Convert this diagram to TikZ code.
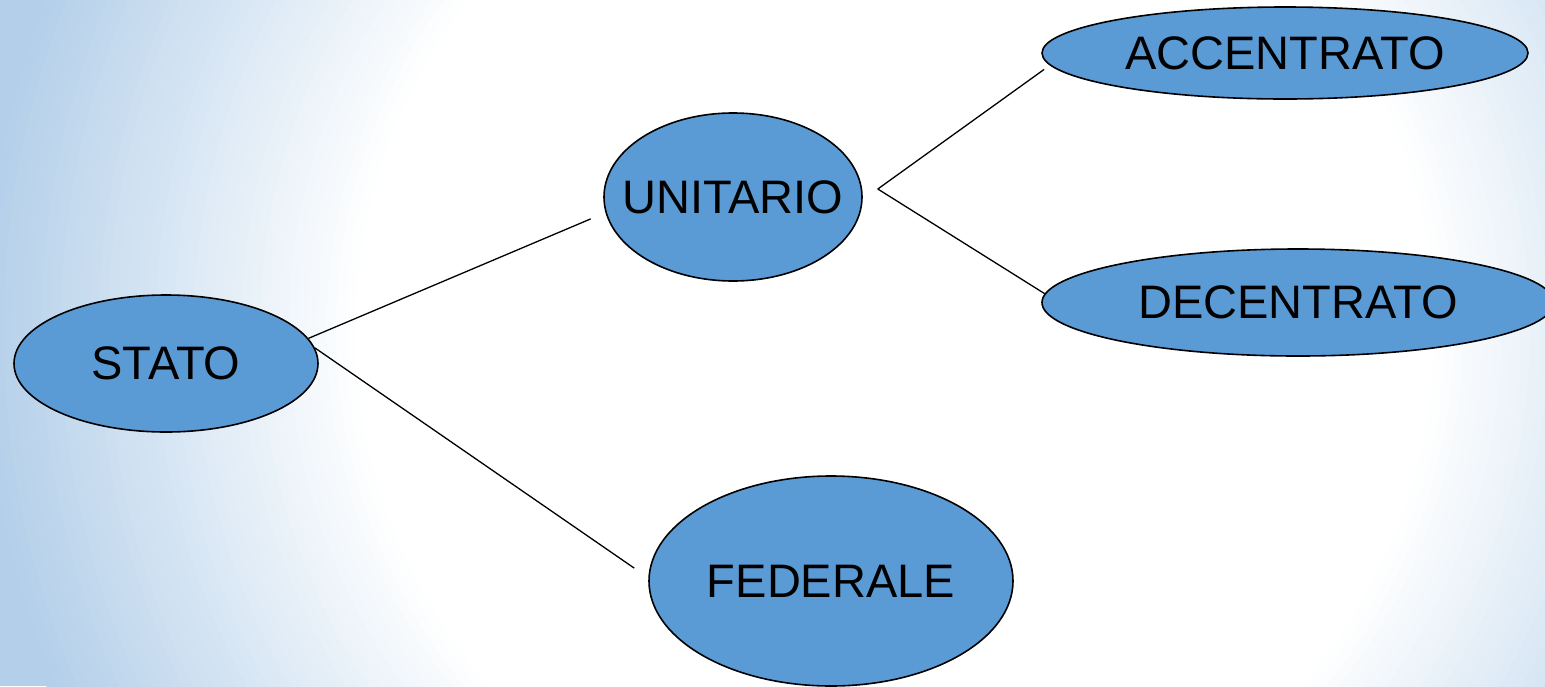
\documentclass[tikz,border=0pt]{standalone}
\usepackage{fontspec}
\setmainfont{Liberation Sans}
\usetikzlibrary{shapes.geometric}
\definecolor{nodeblue}{HTML}{5B9BD5}
\definecolor{bgblue}{HTML}{B3CFE9}
\begin{document}
\begin{tikzpicture}[x=1pt, y=-1pt,
	every node/.style={font=\fontsize{47}{56}\selectfont},
	blob/.style={ellipse, draw, fill=nodeblue, line width=1.6pt, inner sep=0pt},
	link/.style={line width=1.3pt}]
	\useasboundingbox (0,0) rectangle (1545,686);
	\begin{scope}
	\clip (0,0) rectangle (1545,686);
	\fill[bgblue] (0,0) rectangle (1545,686);
	% soft white glow in the middle
	\foreach \i [evaluate=\i as \r using 920-9.5*\i, evaluate=\i as \t using 2.5*\i] in {0,...,40}
		\fill[white!\t!bgblue] (895,330) circle (\r);
	\end{scope}
	\node[blob, minimum width=304pt, minimum height=137pt] (S) at (166,363.5) {STATO};
	\node[blob, minimum width=258pt, minimum height=168pt, inner xsep=-25pt] (U) at (733,197) {UNITARIO};
	\node[blob, minimum width=364pt, minimum height=210pt] (F) at (831,581) {FEDERALE};
	\node[blob, minimum width=486pt, minimum height=92pt] (A) at (1285,53) {ACCENTRATO};
	\node[blob, minimum width=512pt, minimum height=107pt] (D) at (1298,302.5) {DECENTRATO};
	\coordinate (fork) at ([xshift=15pt, yshift=8pt]U.east);
	\draw[link, shorten >=16pt] (S.10) -- (U.187);
	\draw[link, shorten >=17pt] (S.6) -- (F.179);
	\draw[link, shorten >=7pt] (fork) -- (A.183);
	\draw[link] (fork) -- (D.178);
\end{tikzpicture}
\end{document}
